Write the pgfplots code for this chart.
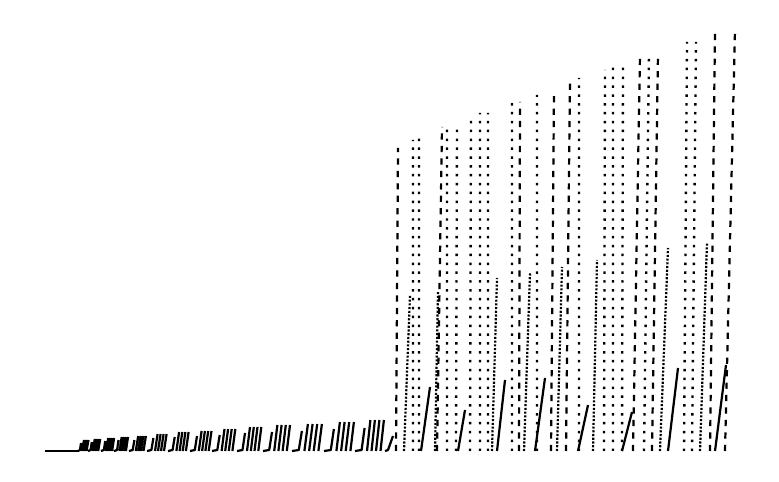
\documentclass[border=0pt]{standalone}
\usepackage{pgfplots}
\pgfplotsset{compat=1.18}
\begin{document}
\begin{tikzpicture}
\begin{axis}[
  scale only axis, width=7.79in, height=4.82in,
  xmin=0, xmax=779, ymin=0, ymax=482,
  hide axis, unbounded coords=jump, clip=false,
]
\addplot[draw=none] coordinates {(0,0) (779,482)};
% baseline
\addplot[black, line width=2pt] coordinates {(45,31)(79,31)};
% solid strokes (small left clusters, solid rises on the right)
\addplot[black, line width=1.6pt, line join=round] coordinates {
(78,31)(80,32)(81,39) (0,nan)
(82,31)(84,42) (0,nan) (83.5,31)(85.5,42) (0,nan) (85,31)(87,42) (0,nan) (86.5,31)(88.5,42) (0,nan)
(88,31)(90.6,32)(91.8,40) (0,nan)
(92.8,31)(94.8,43) (0,nan) (94.6,31)(96.6,43) (0,nan) (96.4,31)(98.4,43) (0,nan) (98.2,31)(100.2,43) (0,nan)
(101,31)(103.9,32)(105.2,41) (0,nan)
(106.2,31)(108.2,44) (0,nan) (108.2,31)(110.2,44) (0,nan) (110.1,31)(112.1,44) (0,nan) (112.1,31)(114.1,44) (0,nan)
(114,31)(117.1,32)(118.5,42) (0,nan)
(119.6,31)(121.7,45) (0,nan) (121.7,31)(123.8,45) (0,nan) (123.8,31)(125.9,45) (0,nan) (125.9,31)(128,45) (0,nan)
(129,31)(132.7,32)(134.4,42) (0,nan)
(135.8,31)(138.2,46) (0,nan) (138.4,31)(140.8,46) (0,nan) (140.9,31)(143.3,46) (0,nan) (143.5,31)(145.9,46) (0,nan)
(147,31)(151.4,32)(153.4,44) (0,nan)
(155,31)(157.6,48) (0,nan) (158,31)(160.6,48) (0,nan) (161,31)(163.6,48) (0,nan) (164,31)(166.6,48) (0,nan)
(168,31)(172.6,32)(174.7,45) (0,nan)
(176.4,31)(179.1,50) (0,nan) (179.6,31)(182.3,50) (0,nan) (182.7,31)(185.4,50) (0,nan) (185.9,31)(188.6,50) (0,nan)
(190,31)(194.8,32)(197,46) (0,nan)
(198.8,31)(201.6,51) (0,nan) (202.1,31)(204.9,51) (0,nan) (205.4,31)(208.2,51) (0,nan) (208.7,31)(211.5,51) (0,nan)
(212,31)(217.3,32)(219.7,47) (0,nan)
(221.6,31)(224.5,53) (0,nan) (225.2,31)(228.1,53) (0,nan) (228.8,31)(231.7,53) (0,nan) (232.4,31)(235.3,53) (0,nan)
(237,31)(242.5,32)(245,49) (0,nan)
(247,31)(250,55) (0,nan) (250.8,31)(253.8,55) (0,nan) (254.5,31)(257.5,55) (0,nan) (258.3,31)(261.3,55) (0,nan)
(263,31)(269.2,32)(272,50) (0,nan)
(274.2,31)(277.4,57) (0,nan) (278.4,31)(281.6,57) (0,nan) (282.6,31)(285.8,57) (0,nan) (286.8,31)(290,57) (0,nan)
(292,31)(298.8,32)(301.9,51) (0,nan)
(304.4,31)(307.9,58) (0,nan) (309.1,31)(312.6,58) (0,nan) (313.7,31)(317.2,58) (0,nan) (318.4,31)(321.9,58) (0,nan)
(324,31)(330.8,32)(333.9,53) (0,nan)
(336.4,31)(339.9,60) (0,nan) (341.1,31)(344.6,60) (0,nan) (345.7,31)(349.2,60) (0,nan) (350.4,31)(353.9,60) (0,nan)
(355,31)(361.6,32)(364.6,54) (0,nan)
(367,31)(370.4,62) (0,nan) (371.5,31)(374.9,62) (0,nan) (376,31)(379.4,62) (0,nan) (380.5,31)(383.9,62) (0,nan)
(385,31)(388,32)(393,46) (0,nan)
(421,31)(430,95) (0,nan)
(458,31)(465,72) (0,nan)
(497,31)(505,102) (0,nan)
(535,31)(545,104) (0,nan)
(578,31)(588,77) (0,nan)
(622,31)(632,70) (0,nan)
(668,31)(678,114) (0,nan)
(715,31)(726,117)
};
% dashed tall lines
\addplot[black, line width=1.6pt, dash pattern=on 4.5pt off 4.5pt] coordinates {
(396,31)(398,334) (0,nan)
(437,31)(442,355) (0,nan)
(519,31)(520,380) (0,nan)
(551,31)(554,392) (0,nan)
(566,31)(570,402) (0,nan)
(633,31)(640,427) (0,nan)
(652,31)(658,429) (0,nan)
(710,31)(715,450) (0,nan)
(725,31)(735,452)
};
% sparse dotted tall lines
\addplot[black, line width=1.7pt, dash pattern=on 1.8pt off 4.6pt] coordinates {
(413,31)(413,342) (0,nan)
(419,31)(419,344) (0,nan)
(447,31)(447,357) (0,nan)
(456,31)(457,357) (0,nan)
(470,31)(471,367) (0,nan)
(480,31)(480,369) (0,nan)
(488,31)(488,369) (0,nan)
(512,31)(512,380) (0,nan)
(537,31)(537,387) (0,nan)
(579,31)(579,404) (0,nan)
(604,31)(605,412) (0,nan)
(613,31)(613,415) (0,nan)
(622,31)(623,415) (0,nan)
(644,31)(649,429) (0,nan)
(684,31)(687,440) (0,nan)
(692,31)(696,440)
};
% densely dotted medium lines
\addplot[black, line width=1.6pt, dash pattern=on 1.5pt off 1.2pt] coordinates {
(404,31)(410,187) (0,nan)
(435,31)(438,190) (0,nan)
(492,31)(497,204) (0,nan)
(524,31)(530,209) (0,nan)
(557,31)(562,215) (0,nan)
(593,31)(597,222) (0,nan)
(660,31)(668,234) (0,nan)
(700,31)(707,240)
};
\end{axis}
\end{tikzpicture}
\end{document}
